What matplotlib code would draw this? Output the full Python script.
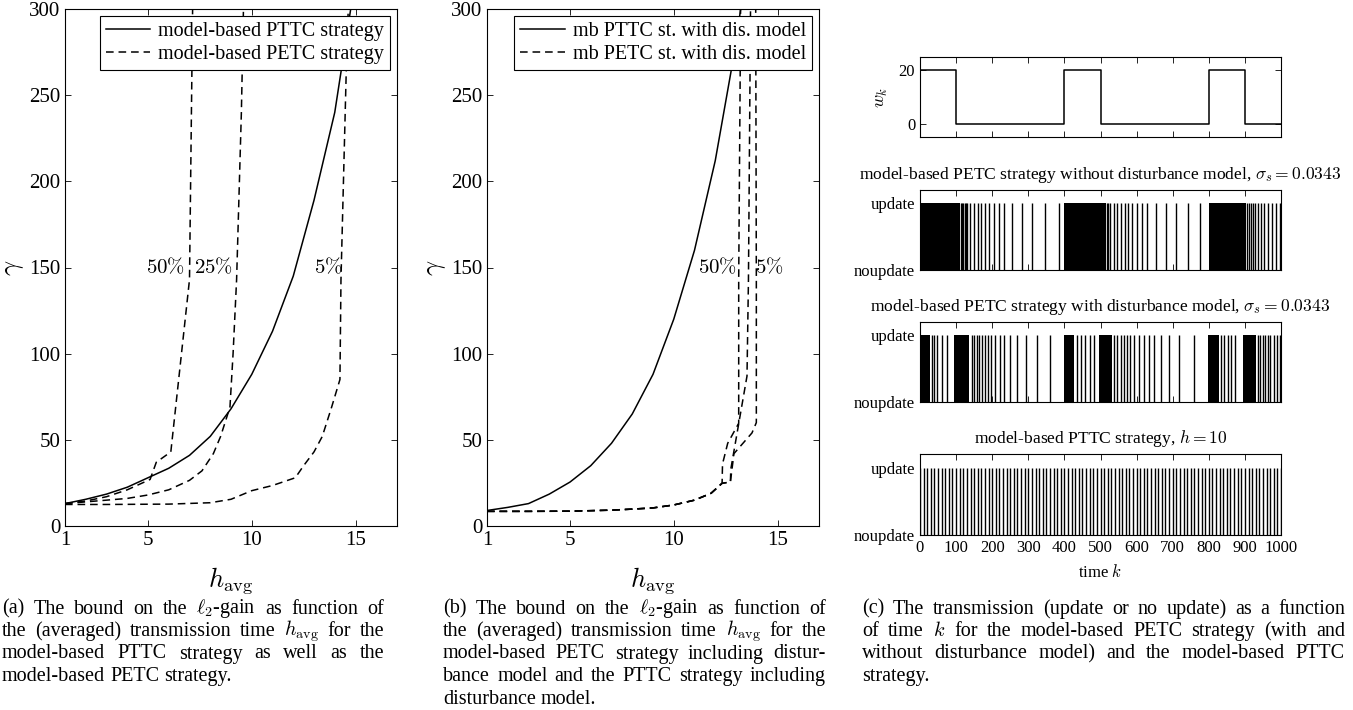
import matplotlib
matplotlib.use("Agg")
import matplotlib.pyplot as plt
import numpy as np

plt.rcParams['font.family'] = ['Liberation Serif', 'DejaVu Serif']
plt.rcParams['mathtext.fontset'] = 'cm'
plt.rcParams['axes.linewidth'] = 0.8

# ---- panel (a): l2-gain bound vs averaged transmission time
a_h_pttc = [1, 2, 3, 4, 5, 6, 7, 8, 9, 10, 11, 12, 13, 14, 15]
a_g_pttc = [13, 15.5, 18.5, 22.5, 28, 33.5, 41, 52, 68, 88, 113, 145, 189, 240, 318]
a_h_50 = [1, 2, 3, 4, 5.1, 5.4, 6.1, 7.0, 7.15]
a_g_50 = [13, 14.5, 17, 21, 27, 37, 43, 143, 300]
a_h_25 = [1, 2.5, 4, 5, 6, 7, 7.6, 8.15, 8.5, 8.95, 9.1, 9.27, 9.5, 9.6]
a_g_25 = [13, 14.5, 16, 18, 21, 26.5, 32, 42, 52, 69, 100, 143, 240, 300]
a_h_5 = [1, 3, 6, 8, 9, 10, 11, 12.1, 12.5, 13, 13.4, 13.85, 14.25, 14.3, 14.55, 14.65]
a_g_5 = [12.5, 12.5, 12.7, 13.5, 15.5, 20.5, 23.5, 28, 35, 43, 52, 69, 85, 143, 262, 300]

# ---- panel (b): with disturbance model
b_h_pttc = [1, 2, 3, 4, 5, 6, 7, 8, 9, 10, 11, 12, 13, 14]
b_g_pttc = [9, 10.8, 13, 18.5, 25.5, 35, 48, 65, 88, 120, 160, 212, 280, 370]
b_h_low = [1, 3, 5, 7, 8, 9, 10, 11, 11.8, 12.33]
b_g_low = [8.5, 8.5, 8.6, 9.2, 9.8, 10.5, 12.2, 15, 19, 24.8]
b_h_50 = b_h_low + [12.35, 12.6, 13.13, 13.13, 13.2, 13.22]
b_g_50 = b_g_low + [36, 48, 59.6, 143, 260, 300]
b_h_25 = b_h_low + [12.73, 12.75, 13.53, 13.6, 13.7]
b_g_25 = b_g_low + [25.5, 33, 87, 143, 300]
b_h_5 = b_h_low + [12.73, 12.9, 13.77, 13.98, 13.98, 13.95]
b_g_5 = b_g_low + [25.5, 42, 54, 60, 143, 300]

# ---- panel (c): disturbance and transmissions over time k
w_k = [0, 100, 100, 400, 400, 500, 500, 800, 800, 900, 900, 1000]
w_val = [20, 20, 0, 0, 20, 20, 0, 0, 20, 20, 0, 0]

# dense update blocks (start, end) and single update instants
petc_blocks = [(0, 111), (400, 514), (800, 903)]
petc_events = [113, 117, 120, 124, 128, 131, 139, 150, 160, 169, 181, 192, 204, 218,
               233, 255, 282, 310, 345, 386,
               518, 521, 525, 537, 546, 557, 567, 577, 588, 602, 616, 630, 653, 681,
               708, 741, 776,
               907, 912, 917, 922, 928, 935, 944, 954, 963, 974, 986, 996]
petcd_blocks = [(0, 28), (94, 135), (398, 426), (495, 532), (798, 829), (896, 931)]
petcd_events = [32, 40, 48, 60, 74,
                144, 150, 157, 164, 171, 181, 187, 196, 208, 222, 233, 248, 269, 294,
                324, 359,
                435, 446, 458, 470, 481,
                537, 546, 556, 565, 574, 583, 594, 606, 620, 634, 648, 667, 690, 718, 759,
                835, 843, 852, 861, 872,
                935, 943, 949, 956, 963, 970, 980, 989, 996]
pttc_h = 10
pttc_events = list(range(0, 1001, pttc_h))

fig = plt.figure(figsize=(13.53, 7.10), dpi=100)
W, H = 1353.0, 710.0


def box(l, t, r, b):
    return [l / W, (H - b) / H, (r - l) / W, (b - t) / H]


dash = (0, (5, 3.2))


def style_ax(ax, size):
    ax.tick_params(direction='in', top=True, right=True, labelsize=size,
                   length=4, width=0.6, color='k')


def gain_panel(left, right, curves, labels, pct):
    ax = fig.add_axes(box(left, 9, right, 526))
    for i, (h, g) in enumerate(curves):
        ls = '-' if i == 0 else dash
        ax.plot(h, g, color='k', ls=ls, lw=1.1, label=labels[i] if i < 2 else None)
    for x, s in pct:
        ax.text(x, 150, s, fontsize=15, ha='center', va='center')
    ax.set_xlim(1, 17)
    ax.set_ylim(0, 300)
    ax.set_xticks([1, 5, 10, 15])
    ax.set_yticks([0, 50, 100, 150, 200, 250, 300])
    style_ax(ax, 15)
    ax.set_xlabel(r'$h_{\mathrm{avg}}$', fontsize=19, labelpad=11)
    ax.set_ylabel(r'$\gamma$', fontsize=19, labelpad=2)
    leg = ax.legend(loc='upper right', fontsize=14.5, fancybox=False, edgecolor='k',
                    framealpha=1, borderaxespad=0.35, handlelength=2.2,
                    borderpad=0.3, labelspacing=0.2, handletextpad=0.4)
    leg.get_frame().set_linewidth(0.8)
    return ax


gain_panel(65, 397,
           [(a_h_pttc, a_g_pttc), (a_h_50, a_g_50), (a_h_25, a_g_25), (a_h_5, a_g_5)],
           ['model-based PTTC strategy', 'model-based PETC strategy'],
           [(5.85, r'$50\%$'), (8.15, r'$25\%$'), (13.7, r'$5\%$')])
gain_panel(487, 819,
           [(b_h_pttc, b_g_pttc), (b_h_50, b_g_50), (b_h_25, b_g_25), (b_h_5, b_g_5)],
           ['mb PTTC st. with dis. model', 'mb PETC st. with dis. model'],
           [(12.1, r'$50\%$'), (14.6, r'$5\%$')])

# (c)
cs = 12
ax = fig.add_axes(box(920, 57, 1281, 137))
ax.plot(w_k, w_val, 'k-', lw=1.1)
ax.set_xlim(0, 1000)
ax.set_ylim(-5, 25)
ax.set_yticks([0, 20])
ax.set_xticks(range(0, 1001, 100))
ax.set_xticklabels([])
style_ax(ax, cs)
ax.set_ylabel(r'$w_k$', fontsize=cs + 1, labelpad=6)


def update_panel(top, bottom, blocks, events, title):
    ax = fig.add_axes(box(920, top, 1281, bottom))
    starts = [s for s, e in blocks]
    widths = [e - s for s, e in blocks]
    ax.bar(starts, [1] * len(blocks), width=widths, align='edge', color='k', lw=0)
    ax.vlines(events, 0, 1, color='k', lw=1.0)
    ax.set_xlim(0, 1000)
    ax.set_ylim(0, 1.2)
    ax.set_yticks([0, 1])
    ax.set_yticklabels(['noupdate', 'update'])
    ax.set_xticks(range(0, 1001, 100))
    style_ax(ax, cs)
    ax.tick_params(axis='y', length=0)
    ax.set_title(title, fontsize=12.6, pad=8)
    return ax


update_panel(190, 270, petc_blocks, petc_events,
             r'model-based PETC strategy without disturbance model, $\sigma_s = 0.0343$').set_xticklabels([])
update_panel(322, 402, petcd_blocks, petcd_events,
             r'model-based PETC strategy with disturbance model, $\sigma_s = 0.0343$').set_xticklabels([])
ax = update_panel(454, 535, [], pttc_events, r'model-based PTTC strategy, $h = 10$')
ax.set_xlabel(r'time $k$', fontsize=cs, labelpad=6)

# captions, justified line by line
renderer = fig.canvas.get_renderer()
cap_fs = 14.5


def text_width(s):
    t = fig.text(0, 0, s, fontsize=cap_fs)
    w = t.get_window_extent(renderer).width
    t.remove()
    return w


space_w = text_width('a a') - text_width('aa')


def put_line(x0, x1, y, line, justify):
    words = line.split(' ')
    widths = [text_width(w) for w in words]
    if justify and len(words) > 1:
        gap = (x1 - x0 - sum(widths)) / (len(words) - 1)
    else:
        gap = space_w
    x = x0
    for w, wd in zip(words, widths):
        fig.text(x / W, 1 - y / H, w, fontsize=cap_fs, va='center', ha='left')
        x += wd + gap


def caption(x0, x1, y0, lines):
    for i, line in enumerate(lines):
        put_line(x0, x1, y0 + 22.5 * i, line, i < len(lines) - 1)


caption(2, 384, 609, [
    r'(a) The bound on the $\ell_2$-gain as function of',
    r'the (averaged) transmission time $h_{\mathrm{avg}}$ for the',
    r'model-based PTTC strategy as well as the',
    r'model-based PETC strategy.'])
caption(443, 826, 609, [
    r'(b) The bound on the $\ell_2$-gain as function of',
    r'the (averaged) transmission time $h_{\mathrm{avg}}$ for the',
    r'model-based PETC strategy including distur-',
    r'bance model and the PTTC strategy including',
    r'disturbance model.'])
caption(862, 1345, 609, [
    r'(c) The transmission (update or no update) as a function',
    r'of time $k$ for the model-based PETC strategy (with and',
    r'without disturbance model) and the model-based PTTC',
    r'strategy.'])

fig.savefig('out.png', dpi=100)
